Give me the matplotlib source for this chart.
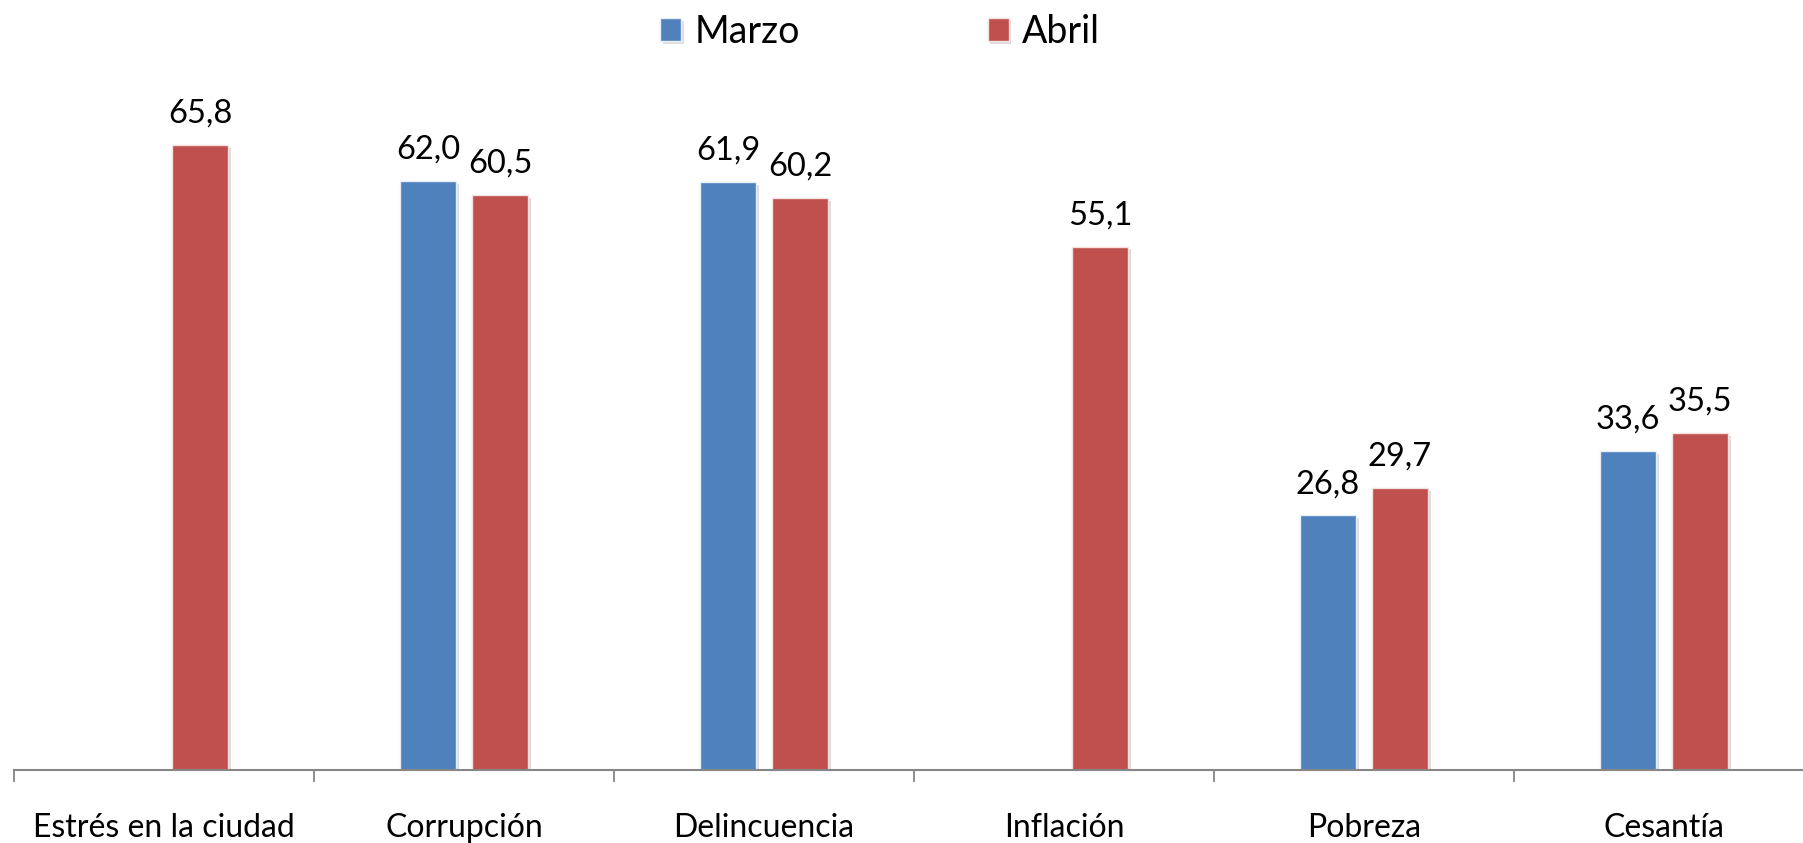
import numpy as np
import matplotlib.pyplot as plt
import matplotlib.patheffects as pe

categories = ['Estrés en la ciudad', 'Corrupción', 'Delincuencia', 'Inflación', 'Pobreza', 'Cesantía']
marzo = [np.nan, 62.0, 61.9, np.nan, 26.8, 33.6]
abril = [65.8, 60.5, 60.2, 55.1, 29.7, 35.5]

blue = '#4F81BD'
red = '#C0504D'

plt.rcParams['font.family'] = ['Lato', 'DejaVu Sans']

fig = plt.figure(figsize=(18.03, 8.43), dpi=100)
ax = fig.add_axes([0, 1 - 770 / 843, 1, 770 / 843])

x = np.arange(len(categories))
w = 0.185
off = 0.12
shadow = [pe.SimplePatchShadow(offset=(2, -2), alpha=0.15), pe.Normal()]

b1 = ax.bar(x - off, marzo, w, color=blue, edgecolor='#e8eef6', linewidth=1, label='Marzo')
b2 = ax.bar(x + off, abril, w, color=red, edgecolor='#f3e0df', linewidth=1, label='Abril')
for p in list(b1) + list(b2):
    p.set_path_effects(shadow)

for xs, vals in [(x - off, marzo), (x + off, abril)]:
    for xi, v in zip(xs, vals):
        if np.isnan(v):
            continue
        ax.annotate(('%.1f' % v).replace('.', ','), (xi, v), xytext=(0, 16),
                    textcoords='offset points', ha='center', va='baseline', fontsize=23.5)

for s in ['top', 'right', 'left']:
    ax.spines[s].set_visible(False)
ax.spines['bottom'].set_color('#868686')
ax.spines['bottom'].set_linewidth(1.5)
ax.spines['bottom'].set_bounds(-0.5, 5.8)
ax.set_yticks([])

ax.set_xticks(x)
ax.set_xticklabels(categories, fontsize=23, va='baseline')
ax.tick_params(axis='x', which='major', length=0, pad=48)
ax.set_xticks(np.arange(-0.5, 5, 1), minor=True)
ax.tick_params(axis='x', which='minor', length=8.5, width=1.3, color='#868686', direction='out')

# limits last so the ticks do not widen them
left = -0.5 - 14 / 300
right = -0.5 + (1803 - 14) / 300
ax.set_xlim(left, right)
ax.set_ylim(0, 770 / 9.5)

fig.legend(handles=[b1, b2], labels=['Marzo', 'Abril'], loc='center', ncol=2,
           bbox_to_anchor=(880 / 1803, 1 - 32 / 843), frameon=False, fontsize=27,
           handlelength=0.56, handleheight=0.56, handletextpad=0.35, columnspacing=5.0)

plt.savefig('out.png', dpi=100)
